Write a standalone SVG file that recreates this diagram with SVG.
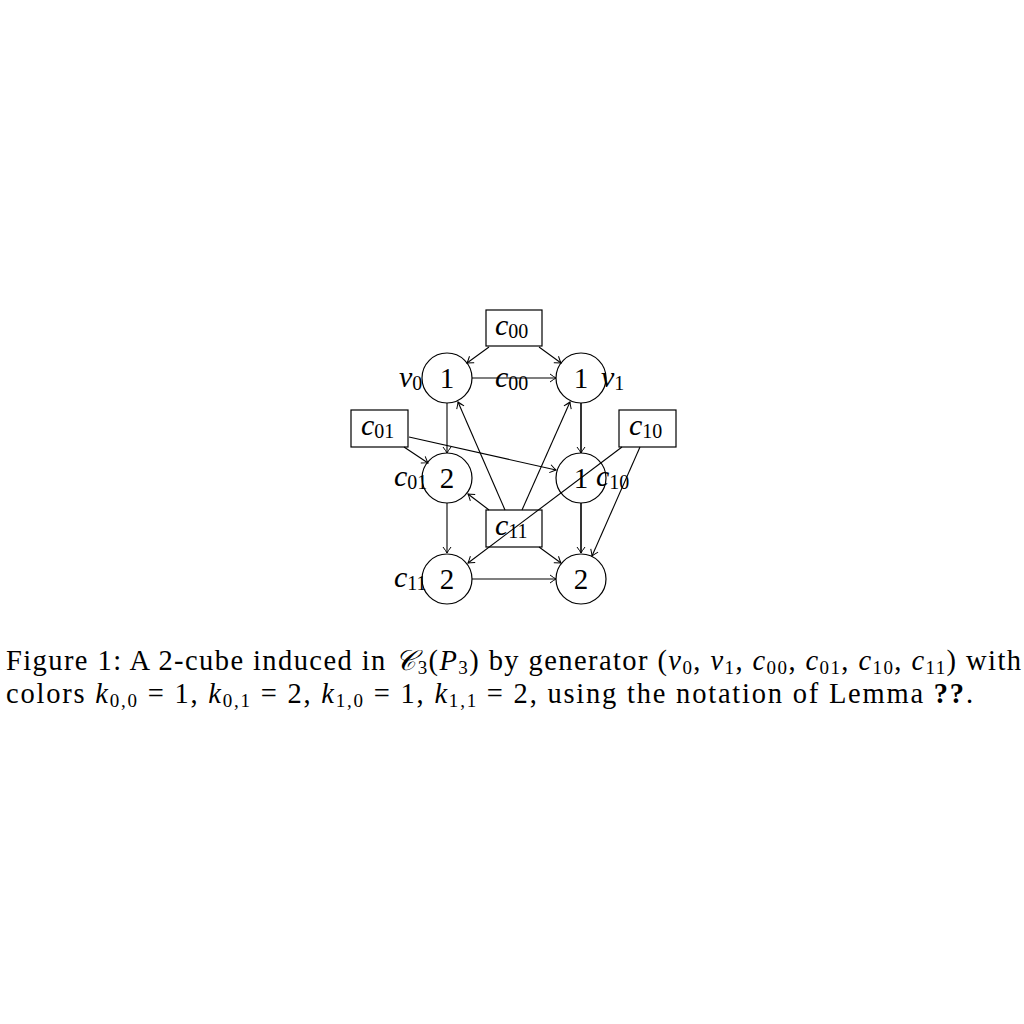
<svg xmlns="http://www.w3.org/2000/svg" width="1024" height="1024" viewBox="0 0 1024 1024">
<style>
.c{fill:none;stroke:#000;stroke-width:1.2}
.b{fill:none;stroke:#000;stroke-width:1.2}
.e{fill:none;stroke:#000;stroke-width:1.1;marker-end:url(#ah)}
.t{font-family:"Liberation Serif","DejaVu Serif",serif;font-size:29px;fill:#000}
.m{font-family:"Liberation Serif","DejaVu Serif",serif;font-style:italic;font-size:30px;fill:#000}
.s{font-style:normal;font-size:20px}
.cap{font-family:"Liberation Serif","DejaVu Serif",serif;font-size:28.5px;fill:#000}
.i{font-style:italic}
.bd{font-weight:bold}
</style>
<defs>
<marker id="ah" viewBox="-8 -6 10 12" refX="0" refY="0" markerWidth="10" markerHeight="12" orient="auto" markerUnits="userSpaceOnUse">
<path d="M-6,-4 Q-1.8,-0.9 0,0 Q-1.8,0.9 -6,4" fill="none" stroke="#000" stroke-width="1"/>
</marker>
</defs>
<rect width="1024" height="1024" fill="#fff"/>
<g id="connectors">
<line class="e" x1="489" y1="347" x2="467" y2="363"/>
<line class="e" x1="539" y1="347" x2="561" y2="363"/>
<line class="e" x1="472" y1="378" x2="556" y2="378"/>
<line class="e" x1="447" y1="403" x2="447" y2="453"/>
<line class="e" x1="581" y1="403" x2="581" y2="453" style="stroke-width:1.6"/>
<line class="e" x1="404" y1="447" x2="428" y2="463"/>
<line class="e" x1="409" y1="437" x2="556" y2="470"/>
<line class="e" x1="622" y1="447" x2="468" y2="563"/>
<line class="e" x1="640" y1="447" x2="592" y2="556"/>
<line class="e" x1="505" y1="510" x2="458" y2="402"/>
<line class="e" x1="522" y1="510" x2="570" y2="402"/>
<line class="e" x1="489" y1="510" x2="468" y2="494"/>
<line class="e" x1="539" y1="547" x2="561" y2="563"/>
<line class="e" x1="447" y1="503" x2="447" y2="553"/>
<line class="e" x1="581" y1="503" x2="581" y2="553" style="stroke-width:1.6"/>
<line class="e" x1="472" y1="579" x2="556" y2="579"/>
</g>
<g id="n-v0"><circle class="c" cx="447" cy="378" r="25"/><text class="t" x="447" y="388" text-anchor="middle">1</text></g>
<g id="n-v1"><circle class="c" cx="581" cy="378" r="25"/><text class="t" x="581" y="388" text-anchor="middle">1</text></g>
<g id="n-c01"><circle class="c" cx="447" cy="478" r="25"/><text class="t" x="447" y="488" text-anchor="middle">2</text></g>
<g id="n-c10"><circle class="c" cx="581" cy="478" r="25"/><text class="t" x="581" y="488" text-anchor="middle">1</text></g>
<g id="n-c11"><circle class="c" cx="447" cy="579" r="25"/><text class="t" x="447" y="589" text-anchor="middle">2</text></g>
<g id="n-out"><circle class="c" cx="581" cy="579" r="25"/><text class="t" x="581" y="589" text-anchor="middle">2</text></g>
<g id="b-c00"><rect class="b" x="486" y="310" width="56" height="36"/><text class="m" x="495" y="335">c<tspan class="s" dy="3">00</tspan></text></g>
<g id="b-c01"><rect class="b" x="351" y="410" width="57" height="37"/><text class="m" x="361" y="435">c<tspan class="s" dy="3">01</tspan></text></g>
<g id="b-c10"><rect class="b" x="619" y="410" width="57" height="37"/><text class="m" x="629" y="435">c<tspan class="s" dy="3">10</tspan></text></g>
<g id="b-c11"><rect class="b" x="486" y="510" width="56" height="37"/><text class="m" x="495" y="535">c<tspan class="s" dy="3">11</tspan></text></g>
<g id="labels">
<text class="m" x="399" y="387">v<tspan class="s" dy="3">0</tspan></text>
<text class="m" x="601" y="387">v<tspan class="s" dy="3">1</tspan></text>
<text class="m" x="495" y="387">c<tspan class="s" dy="3">00</tspan></text>
<text class="m" x="394" y="486">c<tspan class="s" dy="3">01</tspan></text>
<text class="m" x="596" y="486">c<tspan class="s" dy="3">10</tspan></text>
<text class="m" x="394" y="587">c<tspan class="s" dy="3">11</tspan></text>
</g>
<g id="caption">
<text class="cap" x="6" y="670" textLength="1015" lengthAdjust="spacing">Figure 1: A 2-cube induced in <tspan class="i">𝒞</tspan><tspan font-size="19" dy="4">3</tspan><tspan dy="-4">(</tspan><tspan class="i">P</tspan><tspan font-size="19" dy="4">3</tspan><tspan dy="-4">) by generator (</tspan><tspan class="i">v</tspan><tspan font-size="19" dy="4">0</tspan><tspan dy="-4">, </tspan><tspan class="i">v</tspan><tspan font-size="19" dy="4">1</tspan><tspan dy="-4">, </tspan><tspan class="i">c</tspan><tspan font-size="19" dy="4">00</tspan><tspan dy="-4">, </tspan><tspan class="i">c</tspan><tspan font-size="19" dy="4">01</tspan><tspan dy="-4">, </tspan><tspan class="i">c</tspan><tspan font-size="19" dy="4">10</tspan><tspan dy="-4">, </tspan><tspan class="i">c</tspan><tspan font-size="19" dy="4">11</tspan><tspan dy="-4">) with</tspan></text>
<text class="cap" x="6" y="703" textLength="967" lengthAdjust="spacing">colors <tspan class="i">k</tspan><tspan font-size="19" dy="4">0,0</tspan><tspan dy="-4"> = 1, </tspan><tspan class="i">k</tspan><tspan font-size="19" dy="4">0,1</tspan><tspan dy="-4"> = 2, </tspan><tspan class="i">k</tspan><tspan font-size="19" dy="4">1,0</tspan><tspan dy="-4"> = 1, </tspan><tspan class="i">k</tspan><tspan font-size="19" dy="4">1,1</tspan><tspan dy="-4"> = 2, using the notation of Lemma </tspan><tspan class="bd">??</tspan>.</text>
</g>
</svg>
